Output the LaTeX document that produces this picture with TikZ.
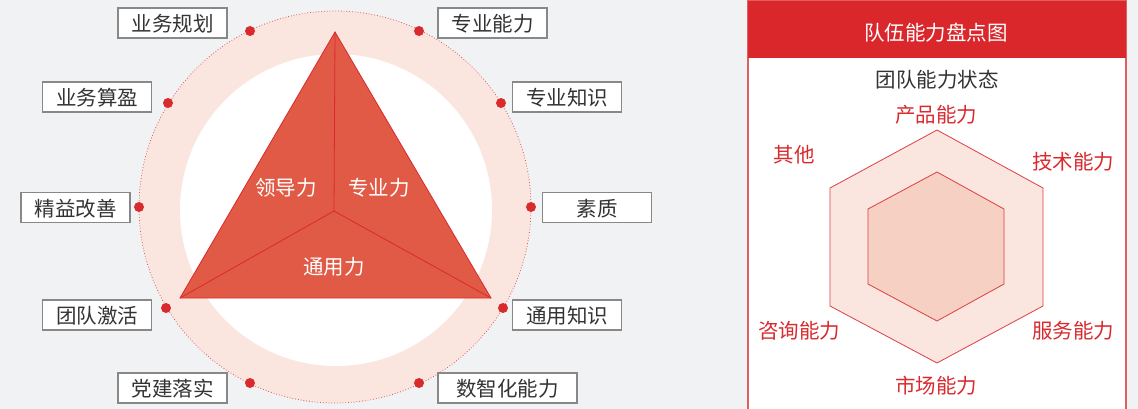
\documentclass[tikz,border=0pt]{standalone}
\usepackage{fontspec}
\newfontfamily\cjk{Noto Sans CJK SC}
\definecolor{bg}{HTML}{F1F2F4}
\definecolor{ring}{HTML}{FAE6DF}
\definecolor{tri}{HTML}{E05A45}
\definecolor{redline}{HTML}{D92A2E}
\definecolor{hdr}{HTML}{D9272C}
\definecolor{lab}{HTML}{333333}
\definecolor{boxline}{HTML}{888888}
\definecolor{hexout}{HTML}{FAE6DE}
\definecolor{hexin}{HTML}{F6D0C2}
\definecolor{panelline}{HTML}{E06060}
\begin{document}
\begin{tikzpicture}[x=1pt,y=-1pt,
  every node/.style={font=\cjk\fontsize{20.5}{22}\selectfont, inner sep=0pt},
  tag/.style={draw=boxline, line width=1.2pt, fill=white, minimum width=109pt, minimum height=30pt, text=lab, text depth=-1pt},
  dotm/.style={circle, fill=redline, minimum size=10pt},
  trilab/.style={text=white},
  hexlab/.style={text=redline}]
\fill[bg] (0,0) rectangle (1138,409);
\useasboundingbox (0,0) rectangle (1138,409);
% ring
\fill[ring] (335,207) circle (196);
\draw[redline!80, line width=0.8pt, dotted] (335,207) circle (196);
\fill[white] (336,210) circle (156);
% triangle
\coordinate (T) at (335,32);
\coordinate (L) at (180,298);
\coordinate (R) at (491,298);
\coordinate (C) at (334,211);
\draw[fill=tri, draw=redline, line width=0.8pt] (T) -- (L) -- (R) -- cycle;
\draw[redline, line width=0.8pt] (C) -- (T) (C) -- (L) (C) -- (R);
\node[trilab] (lead) at (286,188) {领导力};
\node[trilab] (prof) at (379,188) {专业力};
\node[trilab] (gen) at (334,267) {通用力};
% dots
\node[dotm] (d1) at (250,31) {};
\node[dotm] (d2) at (168,103) {};
\node[dotm] (d3) at (139,207) {};
\node[dotm] (d4) at (166,308) {};
\node[dotm] (d5) at (250,383) {};
\node[dotm] (d6) at (419,31) {};
\node[dotm] (d7) at (501,103) {};
\node[dotm] (d8) at (531,207) {};
\node[dotm] (d9) at (503,308) {};
\node[dotm] (d10) at (419,383) {};
% tags
\node[tag] (b1) at (172.5,23) {业务规划};
\node[tag] (b2) at (97,97) {业务算盈};
\node[tag] (b3) at (75.5,207.5) {精益改善};
\node[tag] (b4) at (97,315) {团队激活};
\node[tag] (b5) at (172.5,388) {党建落实};
\node[tag] (b6) at (492.5,23) {专业能力};
\node[tag] (b7) at (567,97) {专业知识};
\node[tag] (b8) at (597,207.5) {素质};
\node[tag] (b9) at (567,315) {通用知识};
\node[tag, minimum width=139pt] (b10) at (507.5,388) {数智化能力};
% right panel
\draw[fill=white, draw=panelline, line width=1.5pt] (748,1) rectangle (1126,420);
\fill[hdr] (748,1) rectangle (1126,58);
\node[text=white] (title) at (936,33) {队伍能力盘点图};
\node[text=lab] (sub) at (937,80) {团队能力状态};
% hexagons
\draw[fill=hexout, draw=redline!90, line width=0.8pt] (937,130) -- (1043,188) -- (1043,306) -- (937,363) -- (830,306) -- (830,188) -- cycle;
\draw[fill=hexin, draw=redline!90, line width=0.8pt] (937,172) -- (1004,209) -- (1004,284) -- (937,321) -- (868,284) -- (868,209) -- cycle;
\node[hexlab] (h1) at (936,115) {产品能力};
\node[hexlab] (h2) at (794,155) {其他};
\node[hexlab] (h3) at (1073,162) {技术能力};
\node[hexlab] (h4) at (799,331) {咨询能力};
\node[hexlab] (h5) at (1073,331) {服务能力};
\node[hexlab] (h6) at (936,386) {市场能力};
\end{tikzpicture}
\end{document}
